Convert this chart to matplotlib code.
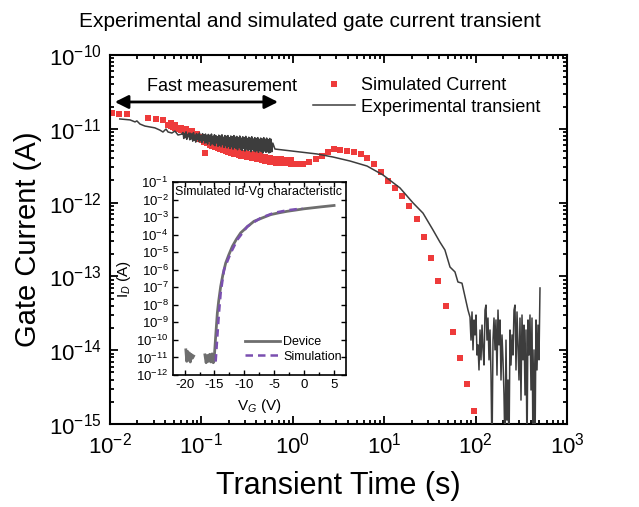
import numpy as np
import matplotlib
matplotlib.use("Agg")
import matplotlib.pyplot as plt
from matplotlib.ticker import LogLocator, MultipleLocator, NullLocator, NullFormatter

plt.rcParams['font.family'] = ['Liberation Sans', 'DejaVu Sans']
plt.rcParams['mathtext.fontset'] = 'custom'
plt.rcParams['mathtext.rm'] = 'Liberation Sans'
plt.rcParams['mathtext.it'] = 'Liberation Sans:italic'
plt.rcParams['mathtext.bf'] = 'Liberation Sans:bold'
plt.rcParams['axes.unicode_minus'] = False

# ---- simulated current (red squares) ----
sim_t_early = [0.0105, 0.0126, 0.0154, 0.0261, 0.0319, 0.038]
sim_i_early = [1.64e-11, 1.59e-11, 1.59e-11, 1.40e-11, 1.36e-11, 1.32e-11]

# dense part of the simulation, lower row (pA)
sim_t_dense = [0.043, 0.046, 0.049, 0.052, 0.056, 0.060, 0.064, 0.068, 0.073, 0.078,
               0.083, 0.089, 0.095, 0.101, 0.108, 0.116, 0.124, 0.132, 0.141, 0.151,
               0.161, 0.172, 0.184, 0.197, 0.210, 0.225, 0.240, 0.257, 0.274, 0.293,
               0.313, 0.335, 0.358, 0.382, 0.408, 0.436, 0.466, 0.498, 0.532, 0.569,
               0.608, 0.650, 0.694, 0.742, 0.793, 0.847, 0.905, 0.967, 1.03, 1.10, 1.18]
sim_i_dense = [11.3, 10.8, 10.5, 10.1, 9.8, 9.5, 9.2, 9.0, 8.7, 8.3,
               8.0, 7.7, 7.3, 7.0, 6.7, 6.4, 6.1, 5.9, 5.7, 5.45,
               5.25, 5.1, 4.95, 4.8, 4.7, 4.6, 4.5, 4.42, 4.33, 4.22,
               4.15, 4.1, 4.05, 4.02, 3.95, 3.86, 3.78, 3.72, 3.65, 3.58,
               3.53, 3.49, 3.45, 3.43, 3.42, 3.42, 3.40, 3.38, 3.35, 3.33, 3.33]
# upper row of the dense band (pA)
sim_t_upper = [0.046, 0.052, 0.060, 0.068, 0.078, 0.089, 0.101, 0.116, 0.132, 0.151,
               0.172, 0.197, 0.225, 0.257, 0.293, 0.335, 0.382, 0.436, 0.498, 0.569,
               0.650, 0.742, 0.847, 0.967]
sim_i_upper = [11.9, 11.3, 10.4, 9.9, 9.2, 8.5, 7.8, 7.1, 6.6, 6.1,
               5.7, 5.4, 5.15, 4.95, 4.75, 4.6, 4.5, 4.35, 4.2, 4.05,
               3.9, 3.85, 3.8, 3.75]
sim_t_odd = [0.1095]
sim_i_odd = [4.7e-12]

sim_t_late = [1.29, 1.50, 1.79, 2.09, 2.43, 2.82, 3.28, 3.92, 4.67, 5.57, 6.49, 7.73, 9.22,
              11.0, 13.1, 15.7, 18.7, 22.8, 27.2, 32.5, 38.8, 47.5, 56.6, 67.5, 80.5, 96.0]
sim_i_late = [3.33e-12, 3.55e-12, 3.90e-12, 4.28e-12, 4.85e-12, 5.32e-12, 5.16e-12, 5.00e-12,
              4.85e-12, 4.56e-12, 4.02e-12, 3.33e-12, 2.60e-12, 1.96e-12, 1.58e-12, 1.23e-12,
              9.0e-13, 6.0e-13, 3.42e-13, 1.77e-13, 8.7e-14, 3.97e-14, 1.77e-14, 7.8e-15,
              3.48e-15, 1.50e-15]

# ---- experimental transient (grey line) ----
exp_t_start = [0.0128, 0.0166, 0.0188, 0.0197, 0.0213, 0.0241, 0.0274, 0.031, 0.0352,
               0.038, 0.041, 0.0432, 0.0476, 0.0514, 0.0555, 0.0615]
exp_i_start = [1.36e-11, 1.32e-11, 1.24e-11, 1.28e-11, 1.16e-11, 1.09e-11, 1.06e-11, 1.03e-11,
               9.6e-12, 9.05e-12, 9.93e-12, 9.05e-12, 8.77e-12, 9.33e-12, 8.24e-12, 8.5e-12]

# fast measurement, noisy part (pA)
exp_t_fast = [0.0630, 0.0642, 0.0654, 0.0667, 0.0679, 0.0692, 0.0705, 0.0719, 0.0732, 0.0746,
              0.0760, 0.0775, 0.0789, 0.0804, 0.0820, 0.0835, 0.0851, 0.0867, 0.0884, 0.0900,
              0.0918, 0.0935, 0.0953, 0.0971, 0.0989, 0.101, 0.103, 0.105, 0.107, 0.109,
              0.111, 0.113, 0.115, 0.117, 0.119, 0.122, 0.124, 0.126, 0.129, 0.131,
              0.134, 0.136, 0.139, 0.141, 0.144, 0.147, 0.150, 0.152, 0.155, 0.158,
              0.161, 0.164, 0.168, 0.171, 0.174, 0.177, 0.181, 0.184, 0.188, 0.191,
              0.195, 0.199, 0.202, 0.206, 0.210, 0.214, 0.218, 0.222, 0.227, 0.231,
              0.235, 0.240, 0.244, 0.249, 0.254, 0.258, 0.263, 0.268, 0.273, 0.279,
              0.284, 0.289, 0.295, 0.300, 0.306, 0.312, 0.318, 0.324, 0.330, 0.336,
              0.343, 0.349, 0.356, 0.363, 0.369, 0.376, 0.384, 0.391, 0.398, 0.406,
              0.414, 0.421, 0.429, 0.438, 0.446, 0.454, 0.463, 0.472, 0.481, 0.490,
              0.499, 0.509, 0.518, 0.528, 0.538, 0.548, 0.559, 0.569, 0.580, 0.591, 0.605]
exp_i_fast = [8.9, 7.4, 8.6, 7.6, 9.1, 7.2, 8.4, 7.8, 8.8, 7.1,
              8.7, 7.3, 8.5, 6.8, 8.9, 7.0, 8.2, 6.6, 8.6, 7.2,
              8.4, 6.7, 8.8, 6.9, 8.1, 6.5, 8.6, 7.0, 8.3, 6.4,
              8.5, 6.6, 8.0, 6.2, 8.4, 6.8, 8.2, 6.0, 8.5, 6.3,
              7.9, 6.1, 8.3, 5.9, 8.1, 6.4, 7.8, 5.8, 8.2, 6.0,
              8.0, 5.7, 8.3, 6.1, 7.7, 5.6, 8.1, 5.9, 7.9, 5.5,
              8.1, 5.8, 7.6, 5.4, 8.0, 5.7, 7.8, 5.3, 8.1, 5.6,
              7.7, 5.4, 7.9, 5.2, 7.6, 5.6, 8.0, 5.3, 7.5, 5.1,
              7.8, 5.4, 7.6, 5.0, 7.9, 5.3, 7.4, 5.1, 7.7, 5.2,
              7.5, 4.9, 7.8, 5.2, 7.3, 5.0, 7.6, 4.9, 7.4, 5.1,
              7.6, 4.8, 7.2, 5.0, 7.5, 4.9, 7.3, 4.7, 7.6, 5.0,
              7.2, 4.8, 7.5, 4.9, 7.1, 4.7, 7.4, 4.8, 7.2, 4.9, 6.4]

exp_t_smooth = [0.638, 1.20, 1.84, 2.75, 4.23, 6.49, 9.70, 14.9, 20.7, 26.6, 34.2, 40.7,
                46.2, 52.5, 59.5, 64.1, 71.0, 76.6, 82.6]
exp_i_smooth = [5.32e-12, 4.85e-12, 4.56e-12, 4.15e-12, 3.66e-12, 3.13e-12, 2.37e-12,
                1.58e-12, 9.9e-13, 7.2e-13, 4.26e-13, 2.92e-13, 2.28e-13, 1.34e-13,
                1.15e-13, 8.4e-14, 8.1e-14, 5.3e-14, 3.5e-14]

# noise floor at long times (fA)
exp_t_tail = [86.9, 89.1, 91.4, 93.7, 96.1, 98.5, 101.1, 103.6, 106.3, 109.0,
              111.8, 114.6, 117.6, 120.6, 123.6, 126.8, 130.0, 133.3, 136.7, 140.2,
              143.8, 147.5, 151.2, 155.1, 159.0, 163.1, 167.2, 171.5, 175.9, 180.4,
              185.0, 189.7, 194.5, 199.5, 204.6, 209.8, 215.1, 220.6, 226.3, 232.0,
              237.9, 244.0, 250.3, 256.6, 263.2, 269.9, 276.8, 283.9, 291.1, 298.5,
              306.1, 313.9, 322.0, 330.2, 338.6, 347.2, 356.1, 365.2, 374.5, 384.0,
              393.8, 403.9, 414.2, 424.7, 435.6, 446.7, 458.1, 469.8, 481.7, 494.0, 506.6]
exp_i_tail = [28, 13.7, 33, 10.1, 25.7, 16.1, 30, 8.6, 11.8, 5.4,
              18.8, 7.4, 21.9, 10.1, 6.3, 35, 40.9, 13.7, 27.3, 7.4,
              18.8, 4.6, 0.4, 13.7, 27.3, 10.1, 25.7, 4.6, 35, 11.8,
              25.7, 3.95, 16.1, 7.4, 2.47, 0.4, 13.7, 1.13, 3.95, 0.4,
              18.8, 6.3, 16.1, 8.6, 35, 40.9, 5.4, 33, 11.8, 3.95,
              27.3, 2.11, 30, 7.4, 21.9, 2.47, 18.8, 0.4, 25.7, 8.6,
              30, 2.89, 27.3, 0.4, 10.1, 0.4, 25.7, 5.4, 21.9, 7.4, 69.7]

# ---- inset: Id-Vg ----
dev_vg = [-19.8, -19.65, -19.5, -19.35, -19.2, -19.05, -18.9, -18.7, -18.5, -18.3,
          -17.9, -17.7, -17.3, -17.0, -16.6, -16.4, -16.2, -16.0, -15.8, -15.6, -15.4, -15.2,
          -15.08, -14.8, -14.52, -14.3, -13.96, -13.6, -13.12, -12.6, -12.0, -11.3, -10.6,
          -9.5, -8.37, -7.0, -5.57, -4.2, -2.77, -1.4, 0.0, 2.82, 5.05]
dev_id = [2.7e-11, 6e-12, 2.2e-11, 7e-12, 1.8e-11, 5.5e-12, 1.5e-11, 9e-12, 1.2e-11, np.nan,
          1.3e-11, np.nan, 1.1e-11, np.nan, 1.4e-11, 5e-12, 1.3e-11, 6e-12, 1.5e-11, 5.5e-12,
          1.6e-11, 5e-12,
          6e-12, 1.55e-10, 3.4e-9, 1.6e-8, 1.12e-7, 5e-7, 2.4e-6, 7e-6, 2.14e-5, 5.6e-5,
          1.26e-4, 2.8e-4, 5.75e-4, 8.9e-4, 1.38e-3, 1.74e-3, 2.14e-3, 2.5e-3, 2.95e-3,
          3.8e-3, 4.57e-3]
sim_vg = [-14.8, -14.52, -14.25, -13.96, -13.4, -12.28, -11.16, -9.48, -7.25, -5.02, -2.77, -0.25]
sim_id = [5.8e-12, 1.55e-10, 3.2e-9, 4.7e-8, 1e-6, 8.9e-6, 5.1e-5, 2.95e-4, 8.9e-4,
          1.74e-3, 2.45e-3, 3.1e-3]

red = '#ee3b3b'
grey = '#3d3d3d'

fig = plt.figure(figsize=(6.39, 5.07), dpi=100)
ax = fig.add_axes([0.1721, 0.1637, 0.7152, 0.7278])

pa = 1e-12
fa = 1e-15
sim_t = sim_t_early + sim_t_dense + sim_t_upper + sim_t_odd + sim_t_late
sim_i = (sim_i_early + [v * pa for v in sim_i_dense] + [v * pa for v in sim_i_upper]
         + sim_i_odd + sim_i_late)
ax.plot(sim_t, sim_i, 's', color=red, ms=4.6, mew=0, label='Simulated Current', zorder=2)

exp_t = exp_t_start + exp_t_fast + exp_t_smooth + exp_t_tail
exp_i = exp_i_start + [v * pa for v in exp_i_fast] + exp_i_smooth + [v * fa for v in exp_i_tail]
ax.plot(exp_t, exp_i, '-', color=grey, lw=1.1, label='Experimental transient', zorder=3)

ax.set_xscale('log')
ax.set_yscale('log')
ax.set_xlim(1e-2, 1e3)
ax.set_ylim(1e-15, 1e-10)
ax.xaxis.set_major_locator(LogLocator(base=10, numticks=10))
ax.yaxis.set_major_locator(LogLocator(base=10, numticks=10))
ax.xaxis.set_minor_locator(LogLocator(base=10, subs=np.arange(2, 10), numticks=20))
ax.yaxis.set_minor_locator(LogLocator(base=10, subs=np.arange(2, 10), numticks=20))
ax.xaxis.set_minor_formatter(NullFormatter())
ax.yaxis.set_minor_formatter(NullFormatter())
ax.tick_params(which='both', direction='in', top=True, right=True, width=1.3)
ax.tick_params(which='major', length=6, labelsize=16, pad=6)
ax.tick_params(which='minor', length=3)
for s in ax.spines.values():
    s.set_linewidth(1.5)

ax.set_xlabel('Transient Time (s)', fontsize=22, labelpad=9)
ax.set_ylabel('Gate Current (A)', fontsize=21, labelpad=5)

# fast measurement arrow
arrow_left = 0.0113
arrow_right = 0.69
arrow_y = 2.31e-11
ax.annotate('', xy=(arrow_left, arrow_y), xytext=(arrow_right, arrow_y),
            arrowprops=dict(arrowstyle='<|-|>', color='k', lw=2, mutation_scale=20,
                            shrinkA=0, shrinkB=0))
ax.text(0.168, 3.8e-11, 'Fast measurement', fontsize=13, ha='center', va='center')

ax.legend(loc='upper left', bbox_to_anchor=(0.445, 0.94), frameon=False, fontsize=13,
          handlelength=2.3, handletextpad=0.35, labelspacing=0.25, borderpad=0,
          borderaxespad=0)

fig.text(0.485, 0.957, 'Experimental and simulated gate current transient',
         fontsize=15, ha='center', va='center')

# inset
axi = fig.add_axes([0.2703, 0.2604, 0.2707, 0.3807])
axi.plot(dev_vg, dev_id, '-', color='#6e6e6e', lw=2, label='Device')
axi.plot(sim_vg, sim_id, '--', color='#7a4fb0', lw=1.8, dashes=(3, 2), label='Simulation')
axi.set_yscale('log')
axi.set_xlim(-22, 7)
axi.set_ylim(1e-12, 1e-1)
axi.yaxis.set_major_locator(LogLocator(base=10, numticks=20))
axi.yaxis.set_minor_locator(NullLocator())
axi.xaxis.set_major_locator(MultipleLocator(5))
axi.xaxis.set_minor_locator(MultipleLocator(2.5))
axi.tick_params(which='both', direction='in', top=True, right=True, width=1)
axi.tick_params(which='major', length=3.5, labelsize=9.5, pad=3)
axi.tick_params(which='minor', length=2)
for s in axi.spines.values():
    s.set_linewidth(1.2)
axi.set_xlabel('V$_G$ (V)', fontsize=11, labelpad=4)
axi.set_ylabel('I$_D$ (A)', fontsize=11, labelpad=2)
axi.text(0.013, 0.948, 'Simulated Id-Vg characteristic', transform=axi.transAxes,
         fontsize=9, ha='left', va='center')
axi.legend(loc='upper left', bbox_to_anchor=(0.418, 0.2), frameon=False, fontsize=9,
           handlelength=2.8, handletextpad=0.25, labelspacing=0.2, borderpad=0,
           borderaxespad=0)

fig.savefig('out.png', dpi=100)
